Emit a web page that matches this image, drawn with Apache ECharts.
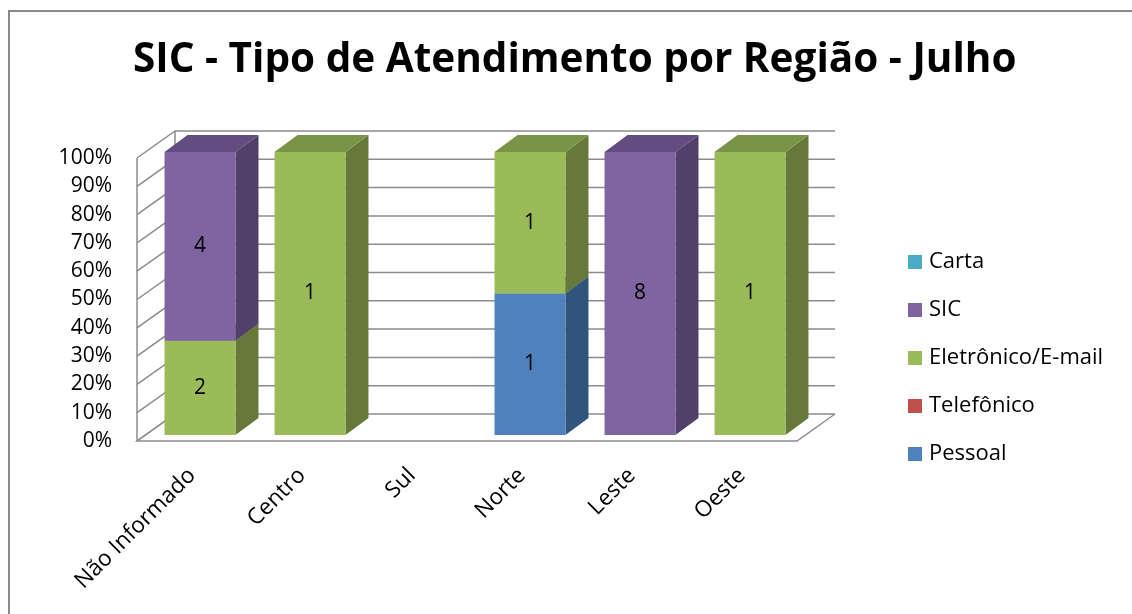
<!DOCTYPE html>
<html>
<head>
<meta charset="utf-8">
<script src="https://cdn.jsdelivr.net/npm/echarts@6/dist/echarts.min.js"></script>
<style>
  html, body { margin: 0; padding: 0; background: #fff; }
  #main { width: 1132px; height: 614px; }
</style>
</head>
<body>
<div id="main"></div>
<script>
// dados do gráfico
var regioes = ['Não Informado', 'Centro', 'Sul', 'Norte', 'Leste', 'Oeste'];
var pessoal = [0, 0, 0, 1, 0, 0];
var telefonico = [0, 0, 0, 0, 0, 0];
var eletronico = [2, 1, 0, 1, 0, 1];
var sic = [4, 0, 0, 0, 8, 0];
var carta = [0, 0, 0, 0, 0, 0];
var yTicks = [0, 10, 20, 30, 40, 50, 60, 70, 80, 90, 100];

var seriesInfo = [
  { name: 'Pessoal', data: pessoal, front: '#4F81BD', side: '#30547C', top: '#3E6A9C' },
  { name: 'Telefônico', data: telefonico, front: '#C0504D', side: '#7E3230', top: '#9E413E' },
  { name: 'Eletrônico/E-mail', data: eletronico, front: '#9BBB59', side: '#66793A', top: '#7A9447' },
  { name: 'SIC', data: sic, front: '#8064A2', side: '#523F6A', top: '#634C80' },
  { name: 'Carta', data: carta, front: '#4BACC6', side: '#2F7083', top: '#3B8AA0' }
];

var FONT = '"Open Sans"';
// profundidade da parede e das barras
var DX = 38, DY = 27;
var BX = 8, BY = -6;
var BDX = 23, BDY = 17;

var totals = regioes.map(function (r, i) {
  var t = 0;
  seriesInfo.forEach(function (s) { t += s.data[i]; });
  return t;
});

function barData(arr, idx) {
  var out = [];
  arr.forEach(function (v, i) {
    if (!v) return;
    var start = 0;
    for (var k = 0; k < idx; k++) start += seriesInfo[k].data[i];
    start = start / totals[i] * 100;
    out.push([i, start, start + v / totals[i] * 100, v]);
  });
  return out;
}

function renderWall(params, api) {
  var cs = params.coordSys;
  var L = cs.x, R = cs.x + cs.width;
  var y = api.coord([0, api.value(1)])[1];
  var st = { stroke: '#8C8C8C', lineWidth: 1.5, fill: null };
  var children = [{
    type: 'polyline',
    shape: { points: [[L, y], [L + DX, y - DY], [R + DX, y - DY]] },
    style: st
  }];
  if (api.value(1) === 0) {
    var yTop = api.coord([0, 100])[1];
    children.push({
      type: 'polyline',
      shape: { points: [[L + DX, y - DY], [L, y], [R, y], [R + DX, y - DY]] },
      style: st
    });
    children.push({ type: 'line', shape: { x1: L, y1: y, x2: L, y2: yTop }, style: st });
    children.push({ type: 'line', shape: { x1: L + DX, y1: y - DY, x2: L + DX, y2: yTop - DY }, style: st });
  }
  return { type: 'group', children: children };
}

function makeBarRender(info) {
  return function (params, api) {
    var c0 = api.coord([api.value(0), api.value(1)]);
    var c1 = api.coord([api.value(0), api.value(2)]);
    var w = api.size([1, 0])[0] * 0.645;
    var x0 = c0[0] - w / 2 + BX, x1 = x0 + w;
    var yb = c0[1] + BY, yt = c1[1] + BY;
    return {
      type: 'group',
      children: [
        {
          type: 'polygon',
          shape: { points: [[x1, yb], [x1 + BDX, yb - BDY], [x1 + BDX, yt - BDY], [x1, yt]] },
          style: { fill: info.side }
        },
        {
          type: 'polygon',
          shape: { points: [[x0, yt], [x1, yt], [x1 + BDX, yt - BDY], [x0 + BDX, yt - BDY]] },
          style: { fill: info.top }
        },
        {
          type: 'rect',
          shape: { x: x0, y: yt, width: w, height: yb - yt },
          style: {
            fill: info.front,
            text: String(api.value(3)),
            textFill: '#000',
            fontSize: 21,
            fontFamily: FONT
          }
        }
      ]
    };
  };
}

var series = [{
  type: 'custom',
  name: 'wall',
  silent: true,
  clip: false,
  z: 1,
  renderItem: renderWall,
  data: yTicks.map(function (v) { return [0, v]; })
}];
seriesInfo.forEach(function (s, idx) {
  series.push({
    type: 'custom',
    name: s.name,
    clip: false,
    z: 2,
    itemStyle: { color: s.front },
    renderItem: makeBarRender(s),
    data: barData(s.data, idx)
  });
});

var mychart = echarts.init(document.getElementById('main'), null, { renderer: 'canvas' });
var option = {
  animation: false,
  backgroundColor: '#fff',
  title: {
    text: 'SIC - Tipo de Atendimento por Região - Julho',
    left: 133,
    top: 40,
    padding: 0,
    textStyle: { fontFamily: FONT, fontSize: 40.5, fontWeight: 'bold', color: '#000' }
  },
  graphic: [{
    type: 'rect',
    shape: { x: 9, y: 11, width: 1200, height: 700 },
    style: { fill: null, stroke: '#8A8A8A', lineWidth: 2 },
    silent: true
  }],
  legend: {
    orient: 'vertical',
    left: 908,
    top: 251,
    padding: 0,
    itemWidth: 14,
    itemHeight: 14,
    itemGap: 26,
    icon: 'rect',
    data: ['Carta', 'SIC', 'Eletrônico/E-mail', 'Telefônico', 'Pessoal'],
    textStyle: { fontFamily: FONT, fontSize: 22, color: '#000', lineHeight: 20, padding: [0, 0, 0, 2] }
  },
  grid: { left: 137, right: 335, top: 158, bottom: 173 },
  xAxis: {
    type: 'category',
    data: regioes,
    axisLine: { show: false },
    axisTick: { show: false },
    axisLabel: { rotate: 45, margin: 31, interval: 0, fontFamily: FONT, fontSize: 22.5, color: '#000' }
  },
  yAxis: {
    type: 'value',
    min: 0,
    max: 100,
    interval: 10,
    splitLine: { show: false },
    axisLine: { show: false },
    axisLabel: { formatter: '{value}%', margin: 25, fontFamily: FONT, fontSize: 21, color: '#000' }
  },
  series: series
};
mychart.setOption(option);
</script>
</body>
</html>
